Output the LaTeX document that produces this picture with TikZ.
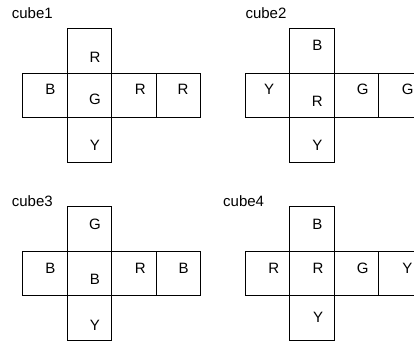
\documentclass[tikz,border=0pt]{standalone}
\usepackage{fontspec}
\setmainfont{Liberation Sans}
\usepackage{tikz}
\tikzstyle{face}=[draw=black, line width=0.8pt, shape=rectangle, minimum size=44.5pt, inner sep=0pt]
\tikzstyle{colour}=[anchor=base, inner sep=0pt, font=\fontsize{15}{18}\selectfont]
\tikzstyle{title}=[anchor=base west, inner sep=0pt, font=\fontsize{15}{18}\selectfont]
\pgfdeclarelayer{facelayer}
\pgfdeclarelayer{textlayer}
\pgfsetlayers{facelayer,textlayer}

\begin{document}
\begin{tikzpicture}[x=1pt, y=-1pt]
	\clip (0, 0) rectangle (414, 344);
	\begin{pgfonlayer}{facelayer}
		% cube1
		\node [style=face] (1t) at (89.2, 50.7) {};
		\node [style=face] (1l) at (44.7, 95.2) {};
		\node [style=face] (1c) at (89.2, 95.2) {};
		\node [style=face] (1r) at (133.7, 95.2) {};
		\node [style=face] (1k) at (178.2, 95.2) {};
		\node [style=face] (1b) at (89.2, 139.7) {};
		% cube2
		\node [style=face] (2t) at (311.7, 50.7) {};
		\node [style=face] (2l) at (267.2, 95.2) {};
		\node [style=face] (2c) at (311.7, 95.2) {};
		\node [style=face] (2r) at (356.2, 95.2) {};
		\node [style=face] (2k) at (400.7, 95.2) {};
		\node [style=face] (2b) at (311.7, 139.7) {};
		% cube3
		\node [style=face] (3t) at (89.2, 228.8) {};
		\node [style=face] (3l) at (44.7, 273.3) {};
		\node [style=face] (3c) at (89.2, 273.3) {};
		\node [style=face] (3r) at (133.7, 273.3) {};
		\node [style=face] (3k) at (178.2, 273.3) {};
		\node [style=face] (3b) at (89.2, 317.8) {};
		% cube4
		\node [style=face] (4t) at (311.7, 228.8) {};
		\node [style=face] (4l) at (267.2, 273.3) {};
		\node [style=face] (4c) at (311.7, 273.3) {};
		\node [style=face] (4r) at (356.2, 273.3) {};
		\node [style=face] (4k) at (400.7, 273.3) {};
		\node [style=face] (4b) at (311.7, 317.8) {};
	\end{pgfonlayer}
	\begin{pgfonlayer}{textlayer}
		\node [style=title] (1) at (11.7, 19) {cube1};
		\node [style=colour] (1tx) at (95, 62.7) {R};
		\node [style=colour] (1lx) at (50.3, 95) {B};
		\node [style=colour] (1cx) at (95, 105) {G};
		\node [style=colour] (1rx) at (140.3, 95) {R};
		\node [style=colour] (1kx) at (183, 95) {R};
		\node [style=colour] (1bx) at (95, 150.7) {Y};
		\node [style=title] (2) at (245.3, 19) {cube2};
		\node [style=colour] (2tx) at (317.3, 50.7) {B};
		\node [style=colour] (2lx) at (269, 95) {Y};
		\node [style=colour] (2cx) at (317.3, 106.7) {R};
		\node [style=colour] (2rx) at (362.7, 95) {G};
		\node [style=colour] (2kx) at (407.7, 95) {G};
		\node [style=colour] (2bx) at (317.3, 150.7) {Y};
		\node [style=title] (3) at (11.7, 207) {cube3};
		\node [style=colour] (3tx) at (95, 229.3) {G};
		\node [style=colour] (3lx) at (50.3, 273.7) {B};
		\node [style=colour] (3cx) at (95, 284.7) {B};
		\node [style=colour] (3rx) at (140.3, 273.7) {R};
		\node [style=colour] (3kx) at (183.7, 273.7) {B};
		\node [style=colour] (3bx) at (95, 330.3) {Y};
		\node [style=title] (4) at (223, 207) {cube4};
		\node [style=colour] (4tx) at (317.3, 229.3) {B};
		\node [style=colour] (4lx) at (273.7, 273.7) {R};
		\node [style=colour] (4cx) at (318, 273.7) {R};
		\node [style=colour] (4rx) at (362.7, 273.7) {G};
		\node [style=colour] (4kx) at (407.3, 273.7) {Y};
		\node [style=colour] (4bx) at (318, 322.7) {Y};
	\end{pgfonlayer}
\end{tikzpicture}
\end{document}
